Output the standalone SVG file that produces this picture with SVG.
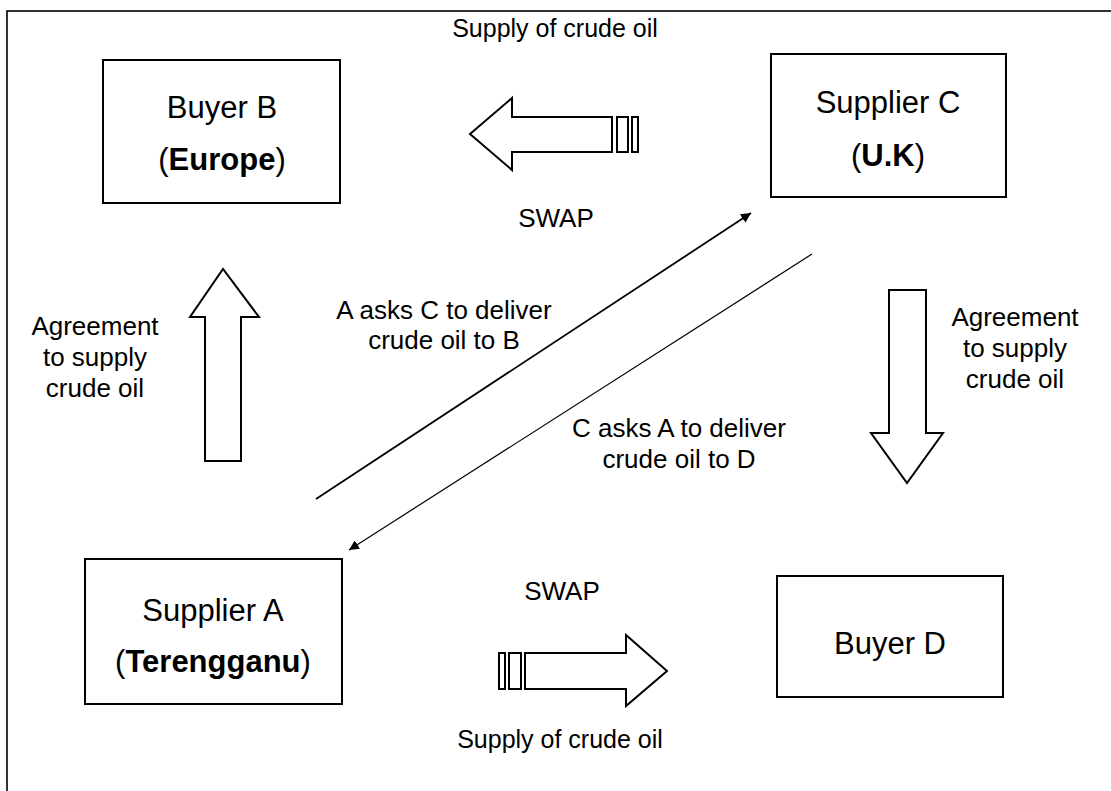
<svg xmlns="http://www.w3.org/2000/svg" width="1111" height="791" viewBox="0 0 1111 791">
<defs>
<style>
.box{fill:#fff;stroke:#000;stroke-width:2}
.blk{fill:#fff;stroke:#000;stroke-width:2;stroke-linejoin:miter}
.t{font-family:"Liberation Sans",Arial,sans-serif;fill:#000;text-anchor:middle}
.n{font-size:31px}
.l{font-size:26px}
.s{font-size:25px}
</style>
<marker id="ah2" viewBox="0 0 10 10" refX="10" refY="5" markerWidth="10" markerHeight="10" markerUnits="userSpaceOnUse" orient="auto">
<path d="M0,0 L10,5 L0,10 Z" fill="#000"/>
</marker>
</defs>
<rect width="1111" height="791" fill="#fff"/>
<rect x="7" y="11" width="1120" height="800" fill="none" stroke="#000" stroke-width="1.6"/>

<g id="connectors">
<line x1="316" y1="499" x2="751" y2="213" stroke="#000" stroke-width="1.8" marker-end="url(#ah2)"/>
<line x1="812" y1="254" x2="349" y2="550" stroke="#000" stroke-width="1.2" marker-end="url(#ah2)"/>
<polygon class="blk" points="205,461 205,317 190,317 223,269 259,317 241,317 241,461"/>
<polygon class="blk" points="889,290 926,290 926,433 943,433 907,483 871,433 889,433"/>
<g id="top-swap-arrow">
<polygon class="blk" points="612,117 512,117 512,98 470,134 512,170 512,152 612,152"/>
<rect class="blk" x="617" y="117" width="11" height="35"/>
<rect class="blk" x="632" y="117" width="6" height="35"/>
</g>
<g id="bottom-swap-arrow">
<polygon class="blk" points="525,653 626,653 626,635 667,671 626,706 626,689 525,689"/>
<rect class="blk" x="499" y="653" width="6" height="36"/>
<rect class="blk" x="509" y="653" width="12" height="36"/>
</g>
</g>

<g id="buyer-b">
<rect class="box" x="103" y="60" width="237" height="143"/>
<text class="t n" x="222" y="118">Buyer B</text>
<text class="t n" x="222" y="170">(<tspan font-weight="bold">Europe</tspan>)</text>
</g>
<g id="supplier-c">
<rect class="box" x="771" y="54" width="235" height="143"/>
<text class="t n" x="888" y="113">Supplier C</text>
<text class="t n" x="888" y="166">(<tspan font-weight="bold">U.K</tspan>)</text>
</g>
<g id="supplier-a">
<rect class="box" x="85" y="559" width="257" height="145"/>
<text class="t n" x="213" y="621">Supplier A</text>
<text class="t n" x="213" y="672">(<tspan font-weight="bold">Terengganu</tspan>)</text>
</g>
<g id="buyer-d">
<rect class="box" x="777" y="576" width="226" height="121"/>
<text class="t n" x="890" y="654">Buyer D</text>
</g>

<g id="labels">
<text class="t s" x="555" y="37">Supply of crude oil</text>
<text class="t l" x="556" y="227">SWAP</text>
<text class="t l" x="444" y="319">A asks C to deliver</text>
<text class="t l" x="444" y="349">crude oil to B</text>
<text class="t l" x="679" y="437">C asks A to deliver</text>
<text class="t l" x="679" y="468">crude oil to D</text>
<text class="t l" x="95" y="335">Agreement</text>
<text class="t l" x="95" y="366">to supply</text>
<text class="t l" x="95" y="397">crude oil</text>
<text class="t l" x="1015" y="326">Agreement</text>
<text class="t l" x="1015" y="357">to supply</text>
<text class="t l" x="1015" y="388">crude oil</text>
<text class="t l" x="562" y="600">SWAP</text>
<text class="t s" x="560" y="748">Supply of crude oil</text>
</g>
</svg>
